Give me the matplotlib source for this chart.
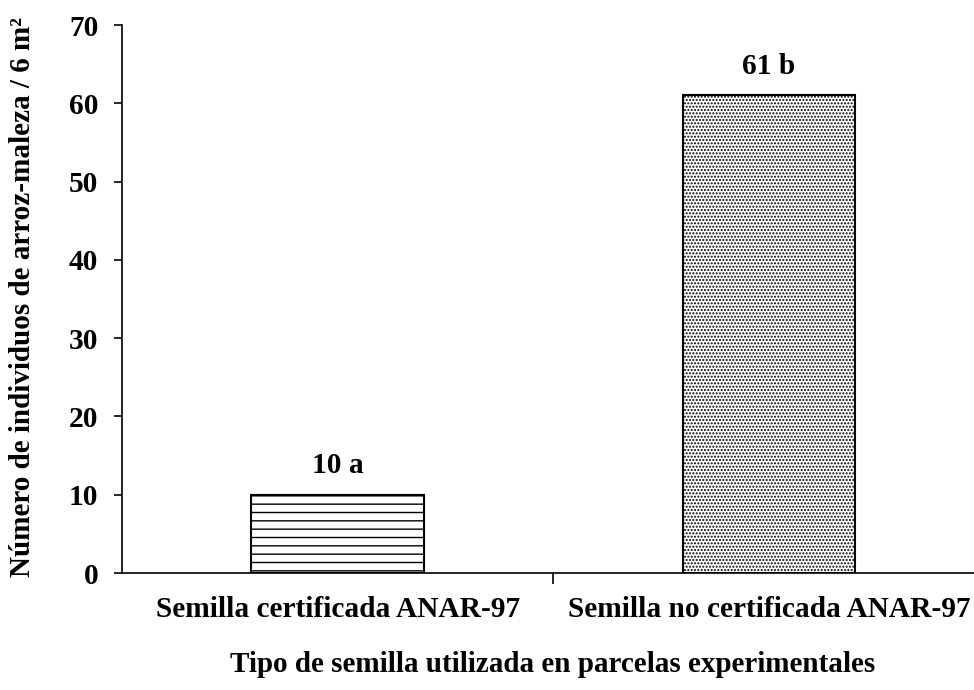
import matplotlib
matplotlib.use("Agg")
import matplotlib.pyplot as plt

categories = ["Semilla certificada ANAR-97", "Semilla no certificada ANAR-97"]
values = [10, 61]
labels = ["10 a", "61 b"]
hatches = ["--", "....."]
hatch_lw = [1.0, 1.0]
yticks = [0, 10, 20, 30, 40, 50, 60, 70]

FS = 21.2
plt.rcParams['font.family'] = ['Liberation Serif', 'DejaVu Serif']
plt.rcParams['font.weight'] = 'bold'

fig = plt.figure(figsize=(9.74, 6.9), dpi=100)
ax = fig.add_axes([122/974, 1-573/690, (984.5-122)/974, (573-25)/690])

x = list(range(len(categories)))
for xi, v, h, hl in zip(x, values, hatches, hatch_lw):
    with plt.rc_context({'hatch.linewidth': hl}):
        ax.bar(xi, v, width=0.4, color='white', edgecolor='black', hatch=h, linewidth=1.5)

for xi, v, lab in zip(x, values, labels):
    ax.text(xi, v + 2.0, lab, ha='center', va='bottom', fontsize=FS, fontweight='bold')

ax.set_xlim(-0.5, 1.5)
ax.set_ylim(0, 70)
ax.set_yticks(yticks)
ax.set_yticklabels([str(t) for t in yticks], fontsize=FS, fontweight='bold')
ax.set_xticks([0.5])
ax.set_xticklabels([''])
ax.tick_params(axis='x', length=8, width=1.2, direction='out')
ax.tick_params(axis='y', length=6, width=1.2, direction='out', pad=11)
for xi, c in zip(x, categories):
    ax.text(xi, -4.6, c, ha='center', va='center', fontsize=FS, fontweight='bold')

ax.spines['top'].set_visible(False)
ax.spines['right'].set_visible(False)
ax.spines['left'].set_linewidth(1.2)
ax.spines['bottom'].set_linewidth(1.2)

ax.set_ylabel("Número de individuos de arroz-maleza / 6 m²", fontsize=21, fontweight='bold')
ax.yaxis.set_label_coords(-0.1, 0.504)
fig.text(553/974, 1-665/690, "Tipo de semilla utilizada en parcelas experimentales",
         ha='center', va='center', fontsize=21, fontweight='bold')

fig.savefig("out.png", dpi=100)
